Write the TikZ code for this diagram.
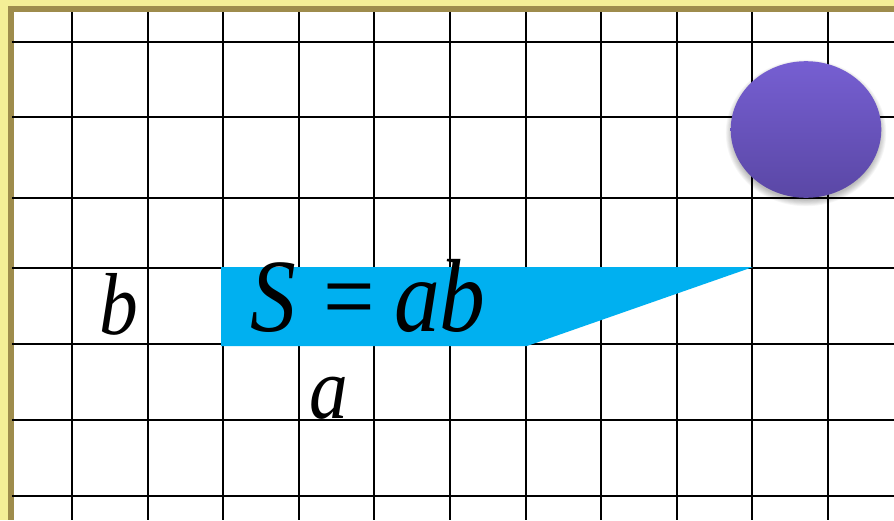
\documentclass[tikz,border=0pt]{standalone}
\usepackage{fontspec}
\setmainfont{Liberation Serif}
\definecolor{paper}{HTML}{F4EE96}
\definecolor{frame}{HTML}{9E8C4C}
\definecolor{skyblue}{HTML}{00B0F0}
\definecolor{violettop}{HTML}{765FD2}
\definecolor{violetbot}{HTML}{5A47A5}
\tikzset{
  gridline/.style={black, line width=2pt},
  bigmath/.style={inner sep=0pt, anchor=base west, xscale=0.88, font=\fontsize{104}{104}\selectfont},
  sidelabel/.style={inner sep=0pt, anchor=base west, xscale=0.88, font=\fontsize{88}{88}\selectfont\itshape},
}
\begin{document}
\begin{tikzpicture}[x=1pt,y=-1pt]
\useasboundingbox (0,0) rectangle (894,520);
% background paper and frame
\fill[paper] (0,0) rectangle (894,520);
\fill[frame] (8,6) rectangle (894,520);
\fill[white] (14,12) rectangle (894,520);
% grid
\foreach \x in {72,147.6,223.2,298.8,374.4,450,525.6,601.2,676.8,752.4,828}
  \draw[gridline] (\x,12) -- (\x,520);
\foreach \y in {42,117,198,268,344,420,496}
  \draw[gridline] (12,\y) -- (894,\y);
% blue banner
\fill[skyblue] (221,267) -- (753,267) -- (527,346) -- (221,346) -- cycle;
\node[bigmath] (formS) at (250,331) {\itshape S};
\node[bigmath] (formEq) at (323,331) {=};
\node[bigmath] (formAB) at (394,331) {\itshape ab};
% side labels
\node[sidelabel] (lblb) at (99,334) {b};
\node[sidelabel] (lbla) at (309,418) {a};
% ball shadow
\foreach \i in {1,...,8}
  \fill[black, opacity=0.035] (806,133) ellipse ({73+\i*0.9} and {66+\i*0.9});
\shade[top color=violettop, bottom color=violetbot] (806,129.5) ellipse (75.3 and 68.3);
\node[inner sep=0pt] (ball) at (806,129.5) {};
\end{tikzpicture}
\end{document}
